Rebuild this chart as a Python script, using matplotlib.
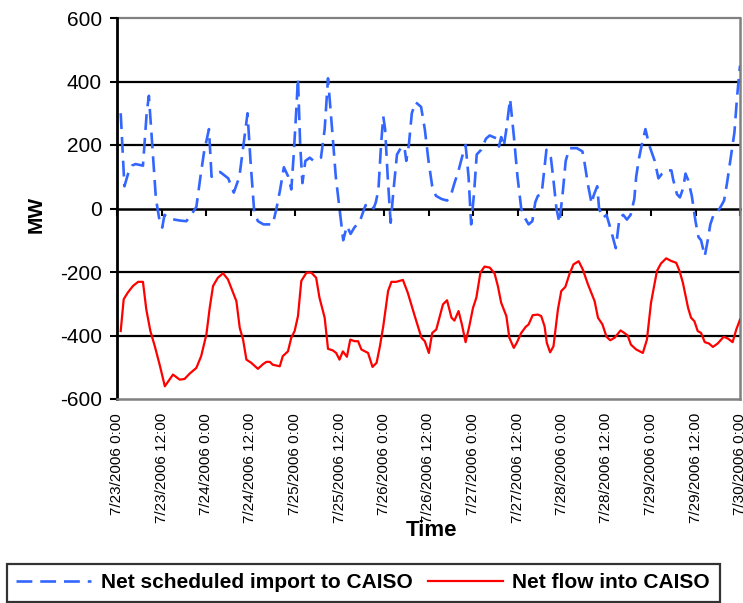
import matplotlib
matplotlib.use("Agg")
import matplotlib.pyplot as plt

plt.rcParams['font.family'] = ['Liberation Sans', 'DejaVu Sans']

# Hours after 7/23/2006 0:00 and values (MW)
import_hours = [1, 2, 3, 4, 5, 7, 8, 8.6, 9.5, 10.5, 11.5, 12.2, 12.8, 14, 15.5, 17, 18.7, 20,
                21.4, 22.5, 23.5, 24.8, 25.5, 26.5, 27.8, 30, 31.5, 33, 34, 35.2, 36, 37, 38,
                39.5, 42, 43, 44, 45, 46.2, 47, 47.6, 48.2, 48.8, 49.4, 50, 50.8, 52, 53, 54,
                55, 56, 56.9, 58, 59, 60, 61, 62, 63, 64, 65.5, 67, 68.6, 69.2, 69.8, 70.5,
                71.2, 71.8, 72.3, 73, 73.8, 74.5, 75.5, 76.5, 77.5, 78, 78.7, 79.5, 80.5, 82,
                83, 84, 85, 86, 87.5, 89, 90, 91, 92, 93, 94, 94.8, 95.5, 96.3, 97, 98.2, 99.5,
                100.5, 101.5, 102.5, 103, 103.6, 104.3, 105, 106, 107, 108, 109, 110, 111, 112,
                112.8, 113.5, 114.5, 115.2, 115.8, 117, 117.6, 118.5, 119.3, 120.2, 121, 122,
                124, 125.5, 126, 127, 128, 128.5, 129.5, 130, 131, 132, 133, 134.5, 135.5,
                136.5, 137.5, 138.5, 139.5, 140, 140.8, 141.5, 142.5, 143.5, 145, 146, 147,
                148, 149.5, 150, 151, 151.8, 152.7, 153.3, 154, 155, 156, 156.8, 157.5, 158.5,
                159.3, 160, 161, 162, 163, 163.7, 164.5, 165.5, 166.5, 167.2, 168]
import_mw = [300, 70, 110, 135, 140, 135, 300, 355, 200, 30, -40, -60, -20, -30, -35, -38, -40, -20,
             5, 100, 180, 250, 100, 110, 115, 95, 50, 100, 190, 300, 150, -10, -40,
             -50, -50, 0, 60, 130, 100, 60, 160, 280, 410, 200, 80, 150, 160, 150, 155,
             160, 250, 410, 250, 100, 0, -100, -55, -80, -60, -40, 10, 15, 0, 20, 60,
             200, 290, 250, 100, -45, 50, 170, 190, 195, 150, 200, 300, 335, 320,
             250, 150, 70, 40, 30, 25, 40, 80, 115, 160, 200, 100, -50, 50, 170, 185, 220,
             230, 225, 220, 195, 225, 195, 250, 345, 230, 100, 0, -30, -50, -40,
             20, 40, 45, 120, 185, 160, 100, 0, -45, 50, 150, 190,
             190, 180, 150, 75, 15, 40, 70, 0, -30, -20, -60, -125, -30,
             -20, -35, -20, 30, 100, 160, 200, 250, 200, 150, 95, 110,
             120, 120, 90, 45, 35, 65, 110, 90, 40, -40, -90, -100, -150,
             -100, -50, -15, -10, 10, 25, 80, 160, 240, 350, 450]

flow_hours = [1, 1.8, 2.9, 4.3, 5.7, 7, 7.9, 9, 10.2, 11.5, 12.9, 15.1, 16.9, 18.2, 19.6, 21.4,
              22.7, 24.1, 25, 25.9, 27.2, 28.6, 29.9, 31.3, 32.2, 33.1, 34, 34.9, 36.2, 38,
              39.4, 40.3, 41.2, 42, 43.9, 44.7, 46.1, 47, 47.9, 48.8, 49.7, 51.1, 52.4, 53.7,
              54.6, 56, 56.9, 58.2, 59.1, 60, 60.9, 62, 62.9, 64.1, 65, 65.9, 67.7, 68.9, 70,
              70.9, 71.8, 73.1, 74, 75.3, 77.1, 78.4, 80.3, 82.1, 83, 84.1, 85, 86.1, 87.9,
              89, 90.2, 91, 92.1, 93, 94, 95, 96, 96.9, 98, 99.1, 100.5, 101.8, 102.7, 103.6,
              105, 105.8, 107, 107.8, 109, 110.2, 111, 112.1, 113.5, 114.4, 115.3, 115.9,
              116.8, 117.7, 118.9, 119.8, 120.9, 122, 123.1, 124.5, 125.6, 127, 128.8, 129.7,
              130.9, 132, 133, 134.2, 135.8, 136.8, 137.7, 138.6, 140, 141.8, 142.9, 144,
              145.6, 146.7, 148.1, 149.4, 150.8, 151.7, 152.6, 154, 154.8, 155.7, 156.6,
              157.5, 158.5, 159.6, 160.7, 162, 163.6, 164.8, 166, 167, 168]
flow_mw = [-386, -286, -265, -244, -231, -231, -318, -386, -434, -492, -560, -523, -539, -537, -520, -502,
           -465, -397, -313, -244, -218, -204, -223, -265, -292, -376, -413, -476, -486, -505,
           -490, -483, -483, -492, -497, -465, -450, -407, -386, -339, -228, -202, -202, -218,
           -281, -344, -442, -447, -455, -476, -450, -467, -413, -418, -418, -444, -455, -499, -486,
           -434, -371, -260, -231, -231, -225, -265, -339, -407, -418, -455, -392, -381, -302,
           -289, -344, -353, -323, -365, -421, -371, -313, -281, -202, -183, -186, -204, -244, -297,
           -339, -407, -439, -423, -392, -373, -365, -336, -334, -339, -371, -423,
           -453, -434, -318, -260, -247, -207, -176, -166, -192, -239, -292, -344,
           -365, -404, -415, -407, -384, -392, -400, -429, -444, -455, -413, -297,
           -197, -173, -157, -165, -171, -197, -234, -313, -344, -355, -386,
           -392, -421, -425, -436, -425, -404, -410, -421, -381, -350]

tick_hours = list(range(0, 169, 12))
tick_labels = ["7/23/2006 0:00", "7/23/2006 12:00", "7/24/2006 0:00", "7/24/2006 12:00",
               "7/25/2006 0:00", "7/25/2006 12:00", "7/26/2006 0:00", "7/26/2006 12:00",
               "7/27/2006 0:00", "7/27/2006 12:00", "7/28/2006 0:00", "7/28/2006 12:00",
               "7/29/2006 0:00", "7/29/2006 12:00", "7/30/2006 0:00"]
y_ticks = [-600, -400, -200, 0, 200, 400, 600]
grid_vals = [-400, -200, 200, 400]

series_names = ["Net scheduled import to CAISO", "Net flow into CAISO"]

W, H = 743, 603
fig = plt.figure(figsize=(W / 100, H / 100), dpi=100)
ax = fig.add_axes([117 / W, 1 - 399 / H, (740 - 117) / W, (399 - 18) / H])

for g in grid_vals:
    ax.axhline(g, color='black', lw=1.6, zorder=1)
ax.axhline(600, color='#808080', lw=1.6, zorder=1, clip_on=False)

l1, = ax.plot(import_hours, import_mw, color='#3366ff', lw=1.9, ls=(0, (6, 3)),
              label=series_names[0], zorder=3)
l2, = ax.plot(flow_hours, flow_mw, color='#ff0000', lw=1.6, label=series_names[1], zorder=3)

ax.set_xlim(0, 168)
ax.set_ylim(-600, 600)

ax.set_yticks(y_ticks)
ax.set_yticklabels([str(v) for v in y_ticks])
ax.tick_params(axis='y', direction='out', length=5, width=1.5, pad=6, color='black',
               labelsize=15)

ax.set_xticks(tick_hours)
ax.set_xticklabels(tick_labels)
ax.spines['top'].set_position(('data', 0))
ax.spines['top'].set_color('black')
ax.spines['top'].set_linewidth(1.8)
ax.spines['top'].set_zorder(2)
ax.tick_params(axis='x', which='major', bottom=False, top=True, labelbottom=True,
               labeltop=False, direction='in', length=5, width=1.5, pad=10,
               labelrotation=90, labelsize=11)
ax.spines['bottom'].set_color('#808080')
ax.spines['bottom'].set_linewidth(1.8)
ax.spines['right'].set_color('#808080')
ax.spines['right'].set_linewidth(1.8)
ax.spines['left'].set_color('black')
ax.spines['left'].set_linewidth(2)

fig.text(36 / W, 1 - 214 / H, "MW", rotation=90, fontsize=15, fontweight='bold',
         ha='center', va='center')
fig.text(432 / W, 1 - 530 / H, "Time", fontsize=16, fontweight='bold',
         ha='center', va='center')

leg = fig.legend(handles=[l1, l2], loc='upper left', bbox_to_anchor=(7 / W, 1 - 564 / H),
                 ncol=2, frameon=True, fancybox=False, edgecolor='black',
                 prop={'weight': 'bold', 'size': 15}, handlelength=3.6,
                 columnspacing=0.75, handletextpad=0.45, borderpad=0.45, borderaxespad=0)
leg.get_frame().set_linewidth(1.6)

fig.savefig("out.png", dpi=100)
